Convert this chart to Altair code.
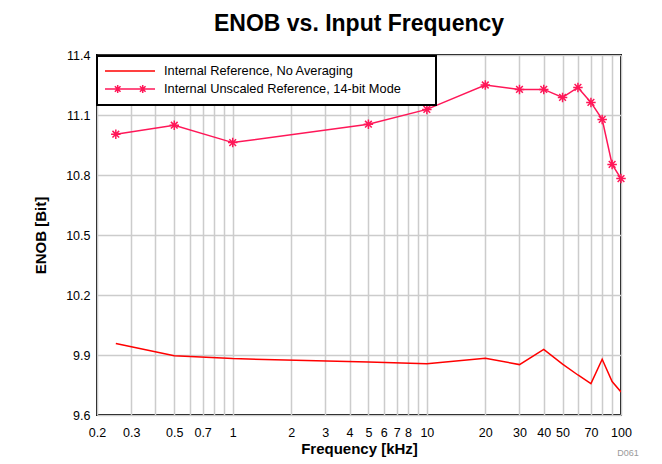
import json
import altair as alt
import pandas as pd

# ---------------- data ----------------
freq_khz = [0.25, 0.5, 1, 5, 10, 20, 30, 40, 50, 60, 70, 80, 90, 100]
enob_no_avg = [9.958, 9.896, 9.882, 9.865, 9.856, 9.884, 9.852, 9.928, 9.854,
               9.80, 9.757, 9.879, 9.767, 9.715]
enob_14bit = [11.004, 11.049, 10.962, 11.054, 11.128, 11.25, 11.228, 11.228,
              11.188, 11.238, 11.163, 11.078, 10.853, 10.782]

series_names = ["Internal Reference, No Averaging",
                "Internal Unscaled Reference, 14-bit Mode"]
series_colors = ["#FF0000", "#FF1758"]

x_grid_ticks = [0.2, 0.3, 0.4, 0.5, 0.6, 0.7, 0.8, 0.9,
                1, 2, 3, 4, 5, 6, 7, 8, 9,
                10, 20, 30, 40, 50, 60, 70, 80, 90, 100]
x_labeled_ticks = [0.2, 0.3, 0.5, 0.7, 1, 2, 3, 4, 5, 6, 7, 8,
                   10, 20, 30, 40, 50, 70, 100]
y_ticks = [9.6, 9.9, 10.2, 10.5, 10.8, 11.1, 11.4]

df = pd.DataFrame({
    "freq": freq_khz * 2,
    "enob": enob_no_avg + enob_14bit,
    "series": [series_names[0]] * len(freq_khz) + [series_names[1]] * len(freq_khz),
})
df_stars = df[df["series"] == series_names[1]]

# ---------------- marker paths ----------------
def star(cx, r):
    d = round(0.7071 * r, 4)
    return (f"M{cx},{-r}L{cx},{r}M{round(cx - r, 4)},0L{round(cx + r, 4)},0"
            f"M{round(cx - d, 4)},{-d}L{round(cx + d, 4)},{d}"
            f"M{round(cx - d, 4)},{d}L{round(cx + d, 4)},{-d}")

STAR = star(0, 1)
# legend symbols (units of 6 px); the trailing move-to only widens the frame
LEG_TAIL = "M52.1,0"
LEG_LINE = "M-1.1667,0L7.1667,0"
LEG_STAR = LEG_LINE + star(0.95, 0.667) + star(5.12, 0.667)

FONT = "Liberation Sans"

color_scale = alt.Scale(domain=series_names, range=series_colors)
shape_scale = alt.Scale(domain=series_names,
                        range=[LEG_LINE + LEG_TAIL, LEG_STAR + LEG_TAIL])


def make_legend():
    return alt.Legend(title=None, orient="none", legendX=0, legendY=1)


x_enc = alt.X(
    "freq:Q",
    scale=alt.Scale(type="log", domain=[0.2, 100], nice=False),
    axis=alt.Axis(
        values=x_grid_ticks,
        labelExpr=(f"indexof({json.dumps(x_labeled_ticks)}, datum.value) >= 0 "
                   "? format(datum.value, '~g') : ''"),
        labelOverlap=False, labelFlush=False,
        title="Frequency [kHz]", titlePadding=3, labelPadding=11,
    ),
)
y_enc = alt.Y(
    "enob:Q",
    scale=alt.Scale(domain=[9.6, 11.4], nice=False, zero=False),
    axis=alt.Axis(values=y_ticks, format=".1f", title="ENOB [Bit]",
                  labelPadding=7, titlePadding=17),
)

lines = alt.Chart(df).mark_line(strokeWidth=1.5, clip=True).encode(
    x=x_enc, y=y_enc,
    color=alt.Color("series:N", scale=color_scale, legend=make_legend()),
    detail="series:N",
)

stars = alt.Chart(df_stars).mark_point(
    shape=STAR, size=90, filled=False, strokeWidth=1.5,
    color=series_colors[1], opacity=1,
).encode(x="freq:Q", y="enob:Q")

# invisible layer that only feeds the legend symbols
legend_feed = alt.Chart(df).mark_point(
    filled=False, opacity=0, strokeWidth=1.5
).encode(
    x="freq:Q", y="enob:Q",
    color=alt.Color("series:N", scale=color_scale, legend=make_legend()),
    shape=alt.Shape("series:N", scale=shape_scale, legend=make_legend()),
)

code = alt.Chart(pd.DataFrame({"t": ["D061"]})).mark_text(
    fontSize=9, color="#9A9A9A", font=FONT, align="center", baseline="middle"
).encode(x=alt.value(531), y=alt.value(398), text="t:N")

chart = (
    alt.layer(lines, stars, legend_feed, code)
    .properties(
        width=524, height=360,
        title=alt.TitleParams("ENOB vs. Input Frequency", fontSize=23,
                              font=FONT, fontWeight="bold", offset=13,
                              anchor="middle", color="black"),
        autosize=alt.AutoSizeParams(type="none"),
        padding={"left": 89, "top": 47, "right": 30, "bottom": 48},
    )
    .configure_view(stroke="black", strokeWidth=2)
    .configure_axis(
        grid=True, gridColor="#CCCCCC", gridWidth=1.5,
        domain=False, ticks=False,
        labelFont=FONT, labelFontSize=12.5, labelColor="black",
        titleFont=FONT, titleFontSize=15, titleFontWeight="bold",
        titleColor="black",
    )
    .configure_legend(
        padding=8, rowPadding=3, labelOffset=45,
        symbolSize=144, symbolStrokeWidth=1.5, symbolOpacity=1,
        symbolFillColor="transparent",
        fillColor="white", strokeColor="black", strokeWidth=2,
        labelFontSize=12.8, labelFont=FONT, labelColor="black",
        labelLimit=400,
    )
)

chart.save("out.html", embed_options={"renderer": "svg", "actions": False})
